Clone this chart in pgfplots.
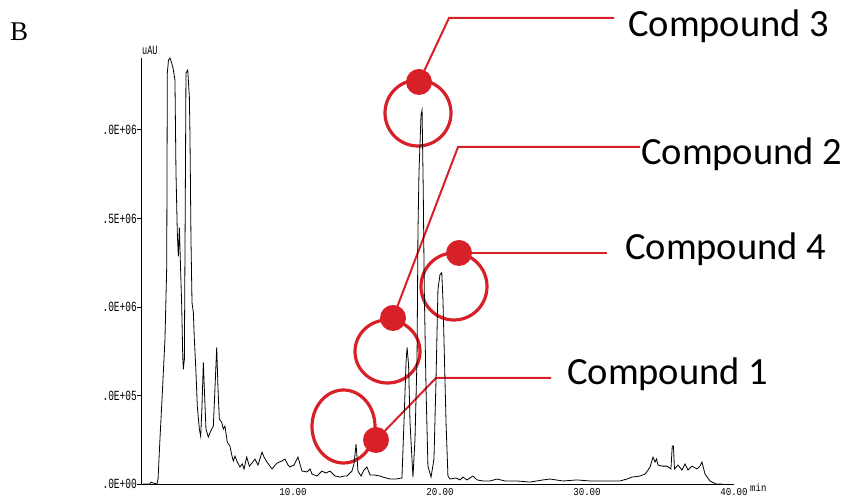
\documentclass[border=0pt]{standalone}
\usepackage{fontspec}
\usepackage{graphicx}
\usepackage{pgfplots}
\pgfplotsset{compat=1.18}
\setmainfont{Liberation Serif}
\setmonofont{Liberation Mono}
\newfontfamily\calfont{Carlito}
\definecolor{annred}{RGB}{215,32,40}
\newcommand\sy[1]{\scalebox{0.95}[1.4]{#1}}
\newcommand\sx[1]{\scalebox{0.95}[1.1]{#1}}

\begin{document}
\begin{tikzpicture}[x=1pt,y=1pt]
% ---------- annotations (page pixel coordinates, y downward) ----------
\begin{scope}[shift={(0,497)}, y=-1pt]
  \node[anchor=base west, inner sep=0pt, font=\fontsize{27}{27}\selectfont] at (10,41) {B};
  % circles
  \draw[annred, line width=3.2pt] (418,113) ellipse [x radius=33pt, y radius=33pt];
  \draw[annred, line width=3.2pt] (387.5,351.5) ellipse [x radius=32.5pt, y radius=31.5pt];
  \draw[annred, line width=3.2pt] (454,286.5) ellipse [x radius=33pt, y radius=33.5pt];
  \draw[annred, line width=3.2pt] (343.5,426.5) ellipse [x radius=31.5pt, y radius=36.5pt];
  % connectors
  \draw[annred, line width=2pt] (419,82) -- (449,18) -- (614,18);
  \draw[annred, line width=2pt] (393,318) -- (458,147) -- (640,147);
  \draw[annred, line width=2pt] (459,253) -- (607,253);
  \draw[annred, line width=2pt] (376,440) -- (436,378) -- (551,378);
  % dots
  \fill[annred] (419,82) circle [radius=13pt];
  \fill[annred] (393,318) circle [radius=13pt];
  \fill[annred] (459,253) circle [radius=13pt];
  \fill[annred] (376,440) circle [radius=13pt];
  % labels
  \begin{scope}[every node/.style={anchor=base west, inner sep=0pt, font=\calfont\fontsize{38.5}{38.5}\selectfont}]
    \node at (628,37) {Compound 3};
    \node at (641,165) {Compound 2};
    \node at (625,260) {Compound 4};
    \node at (567,385) {Compound 1};
  \end{scope}
  \node[anchor=base west, inner sep=0pt, font=\ttfamily\fontsize{9}{9}\selectfont] at (142,55) {\sy{uAU}};
  \node[anchor=base west, inner sep=0pt, font=\ttfamily\fontsize{9.5}{9.5}\selectfont] at (750,492) {\sx{min}};
\end{scope}

% ---------- chromatogram ----------
\begin{axis}[
  at={(141pt,13pt)}, anchor=south west,
  scale only axis, width=593pt, height=426pt,
  xmin=-0.34, xmax=40, ymin=0, ymax=2.406,
  axis lines=left,
  axis line style={-, line width=0.8pt, black},
  xtick={10,20,30,40},
  xticklabels={\sx{10.00},\sx{20.00},\sx{30.00},\sx{40.00}},
  ytick={0,0.5,1,1.5,2},
  yticklabels={\sy{.0E+00},\sy{.0E+05},\sy{.0E+06},\sy{.5E+06},\sy{.0E+06}},
  tick label style={font=\ttfamily\fontsize{10}{10}\selectfont, inner sep=0pt},
  xticklabel style={anchor=north, yshift=0pt, font=\ttfamily\fontsize{9.6}{9.6}\selectfont},
  yticklabel style={anchor=east, xshift=0pt},
  tick align=outside,
  major tick length=4pt,
  xtick style={draw=none},
  ytick style={line width=0.8pt, black},
  clip=false,
]
\addplot[black, line width=0.8pt] coordinates {
(-0.20,0) (0.27,0) (0.34,0.011) (0.48,0.006) (0.75,0) (0.82,0.028)
(0.95,0.254) (1.09,0.479) (1.29,0.817) (1.41,1.228) (1.45,2.321) (1.53,2.394)
(1.63,2.406) (1.73,2.383) (1.84,2.349) (1.97,2.282) (2.04,1.758) (2.13,1.420)
(2.20,1.285) (2.27,1.448) (2.36,1.194) (2.43,1.003) (2.50,0.721) (2.54,0.648)
(2.61,0.704) (2.67,1.566) (2.72,2.321) (2.84,2.338) (2.95,2.186) (2.99,1.983)
(3.06,1.380) (3.13,1.025) (3.22,0.969) (3.29,0.817) (3.40,0.631) (3.49,0.439)
(3.63,0.310) (3.72,0.270) (3.81,0.439) (3.90,0.687) (3.97,0.535) (4.08,0.310)
(4.24,0.265) (4.40,0.299) (4.58,0.327) (4.69,0.535) (4.81,0.772) (4.90,0.535)
(4.99,0.366) (5.15,0.349) (5.26,0.310) (5.37,0.327) (5.53,0.237) (5.71,0.214)
(5.85,0.158) (5.94,0.130) (6.05,0.158) (6.21,0.124) (6.39,0.096) (6.55,0.113)
(6.67,0.085) (6.85,0.152) (7.03,0.101) (7.21,0.118) (7.41,0.141) (7.62,0.107)
(7.89,0.180) (8.03,0.152) (8.23,0.124) (8.57,0.085) (8.91,0.118) (9.25,0.130)
(9.46,0.141) (9.66,0.107) (9.80,0.096) (10.07,0.107) (10.34,0.152) (10.61,0.073)
(10.95,0.068) (11.16,0.085) (11.29,0.056) (11.63,0.045) (11.97,0.073) (12.24,0.062)
(12.52,0.073) (12.86,0.045) (13.20,0.039) (13.47,0.045) (13.67,0.045) (14.01,0.073)
(14.15,0.113) (14.29,0.225) (14.42,0.073) (14.63,0.045) (14.83,0.079) (15.03,0.096)
(15.24,0.051) (15.51,0.051) (15.92,0.045) (16.12,0.039) (16.60,0.028) (17.01,0.028)
(17.41,0.034) (17.55,0.349) (17.69,0.687) (17.76,0.772) (17.86,0.676) (17.96,0.349)
(18.16,0.039) (18.30,0.254) (18.44,0.721) (18.50,1.420) (18.57,1.758) (18.71,2.085)
(18.78,2.113) (18.86,1.662) (18.93,1.099) (19.05,0.535) (19.18,0.101) (19.39,0.039)
(19.59,0.141) (19.73,0.592) (19.86,1.099) (20.00,1.183) (20.12,1.194) (20.20,1.042)
(20.27,0.817) (20.41,0.349) (20.54,0.045) (20.68,0.028) (21.09,0.034) (21.36,0.023)
(21.56,0.039) (21.84,0.023) (22.24,0.045) (22.52,0.023) (22.93,0.017) (23.40,0.017)
(23.88,0.028) (24.42,0.017) (25.24,0.017) (26.12,0.011) (27.01,0.023) (27.48,0.028)
(27.89,0.023) (28.37,0.017) (29.32,0.023) (30.20,0.017) (31.22,0.017) (32.24,0.017)
(32.72,0.028) (33.06,0.039) (33.61,0.045) (33.95,0.056) (34.15,0.079) (34.29,0.096)
(34.49,0.152) (34.63,0.124) (34.73,0.141) (34.83,0.107) (35.10,0.101) (35.44,0.101)
(35.71,0.085) (35.80,0.214) (35.88,0.214) (35.95,0.085) (36.19,0.107) (36.46,0.079)
(36.67,0.113) (36.87,0.079) (37.14,0.101) (37.48,0.085) (37.69,0.101) (37.82,0.124)
(38.03,0.056) (38.37,0.017) (38.78,0.0) (39.2,0.0)
};
\end{axis}
\pgfresetboundingbox
\useasboundingbox (0,0) rectangle (846,497);
\end{tikzpicture}
\end{document}
